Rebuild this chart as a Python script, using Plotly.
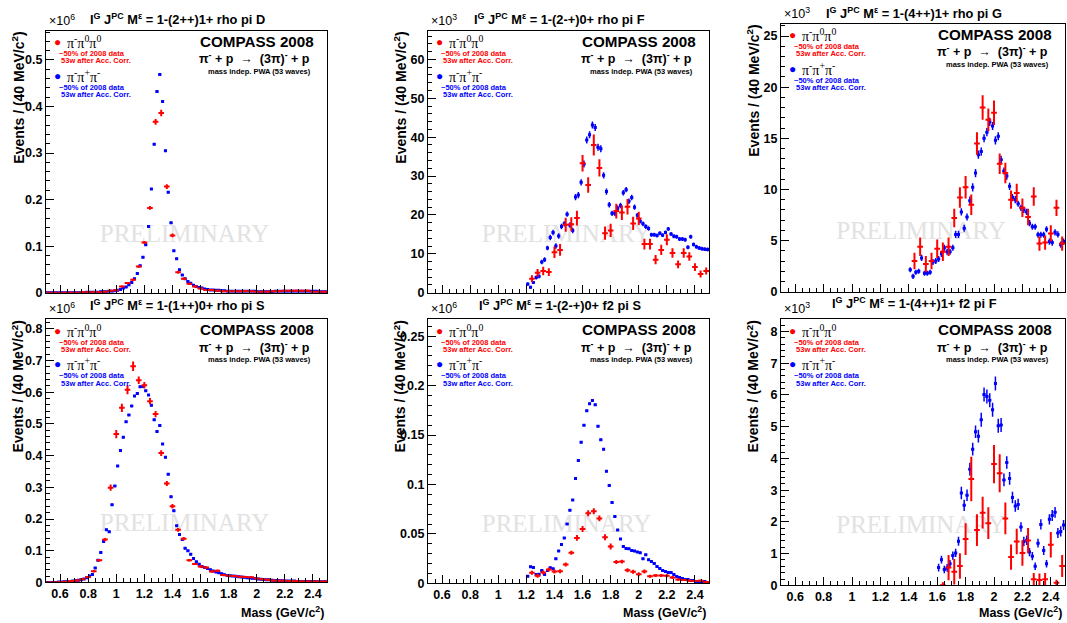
import plotly.graph_objects as go

W, H = 1067, 623
SANS = "Liberation Sans, Arial, Helvetica, sans-serif"
SERIF = "Liberation Serif, Times New Roman, serif"
RED = "#ff0000"
BLUE = "#0000ff"

# ---------------- wave names ----------------
wave_tl = "1-(2++)1+ rho pi D"
wave_tm = "1-(2-+)0+ rho pi F"
wave_tr = "1-(4++)1+ rho pi G"
wave_bl = "1-(1++)0+ rho pi S"
wave_bm = "1-(2-+)0+ f2 pi S"
wave_br = "1-(4++)1+ f2 pi F"

# x tick labels (mass, GeV/c^2)
mass_ticks = [0.6, 0.8, 1.0, 1.2, 1.4, 1.6, 1.8, 2.0, 2.2, 2.4]
mass_range = [0.5, 2.5]
red_bin = 0.04   # 40 MeV bins (pi- pi0 pi0)
blue_bin = 0.02  # 20 MeV bins (pi- pi+ pi-)

# ---------------- top-left: 1-(2++)1+ rho pi D  (x10^6) ----------------
tl_red_start = 0.52
tl_red = [0.000, 0.000, 0.000, 0.000, 0.000, 0.000, 0.001, 0.001, 0.001, 0.001,
          0.002, 0.004, 0.005, 0.013, 0.021, 0.028, 0.056, 0.108, 0.182, 0.367,
          0.386, 0.228, 0.123, 0.044, 0.030, 0.019, 0.013, 0.009, 0.006, 0.006,
          0.004, 0.003, 0.003, 0.003, 0.003, 0.003, 0.003, 0.002, 0.002, 0.002,
          0.003, 0.003, 0.004, 0.004, 0.004, 0.004, 0.004, 0.002, 0.002, 0.002]
tl_red_err = [0.0005, 0.0005, 0.0005, 0.0005, 0.0005, 0.0005, 0.0007, 0.0007, 0.0008, 0.0008,
              0.001, 0.001, 0.0012, 0.0015, 0.0018, 0.002, 0.0025, 0.003, 0.004, 0.006,
              0.007, 0.005, 0.004, 0.003, 0.002, 0.002, 0.0015, 0.0012, 0.001, 0.001,
              0.001, 0.001, 0.001, 0.001, 0.001, 0.001, 0.001, 0.001, 0.001, 0.001,
              0.001, 0.001, 0.001, 0.001, 0.001, 0.001, 0.001, 0.001, 0.001, 0.001]
tl_blue_start = 0.51
tl_blue = [0.000, 0.000, 0.000, 0.000, 0.000, 0.000, 0.000, 0.000, 0.000, 0.000,
           0.000, 0.000, 0.000, 0.000, 0.001, 0.001, 0.001, 0.001, 0.001, 0.002,
           0.002, 0.002, 0.003, 0.003, 0.004, 0.005, 0.007, 0.010, 0.012, 0.017,
           0.022, 0.030, 0.041, 0.058, 0.076, 0.103, 0.142, 0.223, 0.319, 0.432,
           0.469, 0.411, 0.305, 0.216, 0.150, 0.090, 0.073, 0.049, 0.038, 0.030,
           0.024, 0.020, 0.016, 0.013, 0.011, 0.010, 0.008, 0.007, 0.006, 0.006,
           0.005, 0.005, 0.004, 0.004, 0.003, 0.003, 0.003, 0.003, 0.003, 0.003,
           0.003, 0.003, 0.003, 0.003, 0.003, 0.002, 0.002, 0.002, 0.002, 0.002,
           0.002, 0.003, 0.003, 0.003, 0.003, 0.003, 0.003, 0.003, 0.003, 0.003,
           0.003, 0.003, 0.003, 0.003, 0.003, 0.003, 0.003, 0.002, 0.002, 0.002]

# ---------------- bottom-left: 1-(1++)0+ rho pi S  (x10^6) ----------------
bl_red_start = 0.52
bl_red = [0.000, 0.000, 0.001, 0.002, 0.004, 0.006, 0.010, 0.017, 0.035, 0.070,
          0.135, 0.299, 0.468, 0.551, 0.608, 0.682, 0.638, 0.622, 0.572, 0.531,
          0.408, 0.312, 0.240, 0.166, 0.138, 0.070, 0.058, 0.050, 0.047, 0.034,
          0.037, 0.023, 0.021, 0.020, 0.018, 0.017, 0.016, 0.012, 0.010, 0.008,
          0.006, 0.005, 0.005, 0.004, 0.004, 0.003, 0.003, 0.003, 0.003, 0.003]
bl_red_err = [0.001, 0.001, 0.001, 0.001, 0.001, 0.002, 0.002, 0.002, 0.003, 0.003,
              0.005, 0.010, 0.013, 0.013, 0.014, 0.015, 0.012, 0.010, 0.010, 0.010,
              0.009, 0.008, 0.007, 0.006, 0.005, 0.004, 0.003, 0.003, 0.003, 0.003,
              0.003, 0.002, 0.002, 0.002, 0.002, 0.002, 0.002, 0.002, 0.002, 0.002,
              0.001, 0.001, 0.001, 0.001, 0.001, 0.001, 0.001, 0.001, 0.001, 0.001]
bl_blue_start = 0.51
bl_blue = [0.000, 0.000, 0.000, 0.000, 0.001, 0.001, 0.002, 0.002, 0.003, 0.004,
           0.005, 0.007, 0.008, 0.011, 0.015, 0.020, 0.025, 0.045, 0.070, 0.094,
           0.129, 0.166, 0.160, 0.245, 0.304, 0.367, 0.416, 0.458, 0.507, 0.528,
           0.557, 0.588, 0.596, 0.617, 0.618, 0.605, 0.591, 0.559, 0.513, 0.476,
           0.495, 0.437, 0.395, 0.341, 0.270, 0.226, 0.179, 0.151, 0.135, 0.108,
           0.100, 0.089, 0.075, 0.065, 0.057, 0.050, 0.047, 0.044, 0.040, 0.036,
           0.033, 0.030, 0.027, 0.024, 0.022, 0.021, 0.020, 0.019, 0.018, 0.017,
           0.016, 0.015, 0.014, 0.013, 0.012, 0.011, 0.010, 0.009, 0.008, 0.008,
           0.007, 0.006, 0.006, 0.005, 0.005, 0.004, 0.004, 0.004, 0.004, 0.003,
           0.003, 0.003, 0.003, 0.003, 0.003, 0.003, 0.002, 0.002, 0.002, 0.002]

# ---------------- top-middle: 1-(2-+)0+ rho pi F  (x10^3) ----------------
tm_red_start = 1.24
tm_red = [3.6, 5.1, 5.6, 5.3, 10.4, 11.0, 17.5, 17.6, 19.2, 33.3,
          27.7, 38.0, 32.1, 15.3, 16.0, 21.0, 20.6, 22.1, 17.8, 19.1,
          12.5, 12.5, 8.5, 11.0, 13.6, 10.2, 7.3, 10.2, 9.3, 6.6,
          4.8, 5.6]
tm_red_err = [0.9, 1.0, 1.1, 1.0, 1.5, 1.5, 1.8, 1.8, 1.9, 2.1,
              2.0, 2.7, 2.2, 1.7, 1.7, 1.9, 1.9, 2.0, 1.7, 1.7,
              1.4, 1.4, 1.2, 1.3, 1.4, 1.2, 1.0, 1.2, 1.1, 1.0,
              0.9, 0.9]
tm_blue_start = 1.21
tm_blue = [2.2, 1.4, 2.6, 3.9, 4.2, 7.9, 8.5, 11.5, 14.2, 15.5,
           12.0, 14.6, 17.0, 17.7, 20.2, 17.4, 16.0, 24.6, 25.1, 28.4,
           33.1, 39.3, 40.6, 43.1, 42.5, 37.4, 37.0, 30.2, 26.0, 22.6,
           20.4, 20.4, 21.7, 22.4, 25.7, 26.5, 23.5, 24.5, 22.0, 19.9,
           18.4, 17.7, 17.0, 16.5, 14.9, 14.9, 14.7, 15.3, 14.8, 15.5,
           16.4, 15.1, 14.5, 14.4, 13.8, 13.8, 13.6, 11.7, 14.4, 12.4,
           11.8, 11.5, 11.3, 11.2, 11.1]
tm_blue_err = [0.4, 0.4, 0.4, 0.5, 0.5, 0.6, 0.6, 0.6, 0.7, 0.7,
               0.7, 0.7, 0.7, 0.7, 0.7, 0.7, 0.7, 0.8, 0.8, 0.8,
               0.9, 0.9, 0.9, 0.9, 0.9, 0.9, 0.9, 0.8, 0.8, 0.7,
               0.7, 0.7, 0.7, 0.7, 0.7, 0.7, 0.7, 0.7, 0.7, 0.6,
               0.6, 0.6, 0.6, 0.6, 0.5, 0.5, 0.5, 0.5, 0.5, 0.5,
               0.5, 0.5, 0.5, 0.5, 0.5, 0.5, 0.5, 0.5, 0.5, 0.5,
               0.5, 0.5, 0.5, 0.5, 0.5]

# ---------------- bottom-middle: 1-(2-+)0+ f2 pi S  (x10^6) ----------------
bm_red_start = 1.24
bm_red = [0.0107, 0.0077, 0.011, 0.014, 0.012, 0.0123, 0.019, 0.031, 0.046, 0.055,
          0.071, 0.073, 0.0657, 0.0467, 0.0373, 0.0217, 0.022, 0.0133, 0.0117, 0.0093,
          0.012, 0.0073, 0.008, 0.008, 0.0077, 0.006, 0.004, 0.0033, 0.0027, 0.0023,
          0.0027, 0.0013]
bm_red_err = [0.002, 0.002, 0.002, 0.002, 0.002, 0.002, 0.002, 0.002, 0.003, 0.003,
              0.003, 0.003, 0.003, 0.003, 0.003, 0.002, 0.002, 0.002, 0.002, 0.002,
              0.002, 0.0015, 0.0015, 0.0015, 0.0015, 0.0015, 0.001, 0.001, 0.001, 0.001,
              0.001, 0.001]
bm_blue_start = 1.21
bm_blue = [0.0073, 0.0167, 0.016, 0.009, 0.0093, 0.013, 0.009, 0.013, 0.0157, 0.0147,
           0.025, 0.0327, 0.0393, 0.046, 0.060, 0.074, 0.0843, 0.106, 0.1243, 0.1427,
           0.160, 0.1747, 0.1817, 0.185, 0.1807, 0.159, 0.1453, 0.1357, 0.1133, 0.099,
           0.0817, 0.0677, 0.054, 0.045, 0.0373, 0.0353, 0.035, 0.0333, 0.0327, 0.0317,
           0.031, 0.025, 0.029, 0.024, 0.022, 0.020, 0.017, 0.015, 0.013, 0.012,
           0.011, 0.011, 0.009, 0.007, 0.006, 0.005, 0.004, 0.004, 0.003, 0.003,
           0.002, 0.002, 0.002, 0.002, 0.001]

# ---------------- top-right: 1-(4++)1+ rho pi G  (x10^3) ----------------
tr_red_start = 1.44
tr_red = [3.0, 4.4, 2.7, 3.0, 4.2, 3.9, 4.4, 7.2, 9.2, 10.2,
          8.5, 14.5, 18.0, 16.8, 17.5, 12.5, 11.6, 9.0, 9.65, 8.2,
          7.3, 9.3, 4.7, 4.8, 5.7, 8.2, 4.7]
tr_red_err = [0.8, 0.9, 0.8, 0.8, 0.9, 0.9, 0.9, 0.9, 1.0, 1.1,
              1.0, 1.1, 1.2, 1.1, 1.2, 1.0, 1.0, 0.9, 0.9, 0.9,
              0.8, 0.9, 0.7, 0.7, 0.8, 0.8, 0.7]
tr_blue_start = 1.41
tr_blue = [2.15, 1.5, 1.9, 2.0, 3.3, 1.8, 1.8, 1.9, 2.9, 3.0,
           3.2, 3.7, 4.3, 3.9, 3.9, 4.3, 5.6, 5.6, 7.8, 6.2,
           7.3, 8.9, 10.2, 11.6, 13.4, 13.7, 15.0, 15.6, 16.6, 16.2,
           14.8, 15.2, 12.9, 11.8, 11.3, 10.3, 9.2, 9.0, 8.6, 8.2,
           8.0, 7.8, 6.7, 6.35, 6.35, 5.57, 5.57, 5.57, 6.1, 4.9,
           4.8, 5.8, 5.6, 4.6, 4.9]
tr_blue_err = [0.25, 0.25, 0.25, 0.25, 0.3, 0.25, 0.25, 0.25, 0.3, 0.3,
               0.3, 0.3, 0.3, 0.3, 0.3, 0.3, 0.35, 0.35, 0.35, 0.35,
               0.35, 0.4, 0.4, 0.4, 0.4, 0.4, 0.4, 0.4, 0.4, 0.4,
               0.4, 0.4, 0.4, 0.35, 0.35, 0.35, 0.35, 0.35, 0.3, 0.3,
               0.3, 0.3, 0.3, 0.3, 0.3, 0.3, 0.3, 0.3, 0.3, 0.3,
               0.3, 0.3, 0.3, 0.3, 0.3]

# ---------------- bottom-right: 1-(4++)1+ f2 pi F  (x10^3) ----------------
br_red_start = 1.64
br_red = [0.0, 0.56, 0.43, 0.61, 1.46, 3.35, 1.74, 2.29, 1.96, 3.82,
          3.53, 2.11, 0.89, 1.38, 1.02, 1.41, 0.19, 0.17, 0.19, 1.28,
          0.08, 0.61]
br_red_err = [0.1, 0.4, 0.4, 0.4, 0.5, 0.7, 0.5, 0.5, 0.5, 0.6,
              0.6, 0.5, 0.4, 0.4, 0.4, 0.4, 0.2, 0.2, 0.2, 0.4,
              0.1, 0.35]
br_blue_start = 1.61
br_blue = [0.56, 0.81, 0.5, 0.55, 0.68, 0.94, 1.02, 1.39, 2.91, 2.52,
           2.84, 3.66, 4.29, 4.84, 4.7, 5.22, 6.01, 5.95, 5.83, 5.53,
           6.36, 5.03, 5.05, 3.32, 3.87, 3.37, 2.77, 2.5, 2.55, 1.84,
           1.38, 1.42, 1.05, 0.92, 0.6, 1.33, 1.92, 1.1, 0.68, 2.08,
           2.2, 2.3, 1.65, 1.7, 1.9]
br_blue_err = [0.12, 0.12, 0.12, 0.12, 0.12, 0.13, 0.13, 0.14, 0.2, 0.18,
               0.18, 0.2, 0.2, 0.2, 0.2, 0.22, 0.22, 0.22, 0.22, 0.22,
               0.22, 0.22, 0.22, 0.2, 0.2, 0.2, 0.18, 0.18, 0.18, 0.15,
               0.15, 0.15, 0.13, 0.13, 0.12, 0.14, 0.16, 0.14, 0.12, 0.16,
               0.17, 0.17, 0.16, 0.16, 0.16]

# ---------------- panel layout (pixel frames: left, top, right, bottom) ----------------
panels = [
    dict(frame=(46, 31, 327, 296), ymax=0.563, dtick=0.1, minor=0.02, mult="6", wave=wave_tl, bottom=False,
         title_y=19, red=(tl_red_start, tl_red, tl_red_err), blue=(tl_blue_start, tl_blue, None)),
    dict(frame=(428, 31, 709, 296), ymax=67.4, dtick=10, minor=2, mult="3", wave=wave_tm, bottom=False,
         title_y=19, red=(tm_red_start, tm_red, tm_red_err), blue=(tm_blue_start, tm_blue, tm_blue_err)),
    dict(frame=(781, 24, 1065, 295), ymax=26.2, dtick=5, minor=1, mult="3", wave=wave_tr, bottom=False,
         title_y=13, red=(tr_red_start, tr_red, tr_red_err), blue=(tr_blue_start, tr_blue, tr_blue_err)),
    dict(frame=(46, 323, 327, 589), ymax=0.83, dtick=0.1, minor=0.02, mult="6", wave=wave_bl, bottom=True,
         title_y=308, red=(bl_red_start, bl_red, bl_red_err), blue=(bl_blue_start, bl_blue, None)),
    dict(frame=(428, 323, 709, 590), ymax=0.267, dtick=0.05, minor=0.01, mult="6", wave=wave_bm, bottom=True,
         title_y=308, red=(bm_red_start, bm_red, bm_red_err), blue=(bm_blue_start, bm_blue, None)),
    dict(frame=(781, 323, 1065, 592), ymax=8.38, dtick=1, minor=0.2, mult="3", wave=wave_br, bottom=True,
         title_y=306, red=(br_red_start, br_red, br_red_err), blue=(br_blue_start, br_blue, br_blue_err)),
]


def px(x):
    return x / W


def py(y):
    return 1 - y / H


def centers(start, n, width):
    return [round(start + width * i, 4) for i in range(n)]


fig = go.Figure()
annotations = []
layout = {}


def ann(text, x, y, size, color="black", family=SANS, bold=True, xanchor="left",
        yanchor="middle", angle=0):
    annotations.append(dict(
        text=text, x=px(x), y=py(y), xref="paper", yref="paper", showarrow=False,
        xanchor=xanchor, yanchor=yanchor, textangle=angle,
        font=dict(family=family, size=size, color=color, weight="bold" if bold else "normal")))


for i, p in enumerate(panels, start=1):
    L, T, R, B = p["frame"]
    xa, ya = f"x{i}", f"y{i}"
    xname = "xaxis" if i == 1 else f"xaxis{i}"
    yname = "yaxis" if i == 1 else f"yaxis{i}"

    # watermark (drawn first so data sit on top)
    fig.add_trace(go.Scatter(
        x=[mass_range[0] + 0.493 * (mass_range[1] - mass_range[0])], y=[0.219 * p["ymax"]],
        mode="text", text=["PRELIMINARY"],
        textfont=dict(family=SERIF, size=25, color="#e2e2e2"),
        xaxis=xa, yaxis=ya, showlegend=False, hoverinfo="skip", cliponaxis=False))

    # blue: pi- pi+ pi-
    bs, bv, be = p["blue"]
    fig.add_trace(go.Scatter(
        x=centers(bs, len(bv), blue_bin), y=bv, mode="markers",
        marker=dict(color=BLUE, size=3, symbol="square", line=dict(width=0)),
        error_x=dict(type="constant", value=blue_bin / 2, width=0, thickness=2, color=BLUE),
        error_y=(dict(type="data", array=be, width=0, thickness=1.5, color=BLUE)
                 if be is not None else dict(visible=False)),
        xaxis=xa, yaxis=ya, showlegend=False, cliponaxis=True))

    # red: pi- pi0 pi0
    rs, rv, re = p["red"]
    fig.add_trace(go.Scatter(
        x=centers(rs, len(rv), red_bin), y=rv, mode="markers",
        marker=dict(color=RED, size=2, symbol="square", line=dict(width=0)),
        error_x=dict(type="constant", value=red_bin / 2, width=0, thickness=2, color=RED),
        error_y=dict(type="data", array=re, width=0, thickness=2, color=RED),
        xaxis=xa, yaxis=ya, showlegend=False, cliponaxis=True))

    layout[xname] = dict(
        domain=[px(L), px(R)], range=mass_range, anchor=ya,
        tickmode="array", tickvals=mass_ticks,
        ticktext=[f"{v:g}" for v in mass_ticks],
        showticklabels=p["bottom"],
        ticks="inside", ticklen=8, tickwidth=1, tickcolor="black",
        minor=dict(ticks="inside", ticklen=4, dtick=0.05, tick0=0, tickwidth=1, tickcolor="black"),
        showline=True, linecolor="black", linewidth=1.2, mirror=True,
        showgrid=False, zeroline=False,
        tickfont=dict(family=SANS, size=12.5, color="black", weight="bold"))
    layout[yname] = dict(
        domain=[py(B), py(T)], range=[0, p["ymax"]], anchor=xa,
        dtick=p["dtick"], tick0=0,
        ticks="inside", ticklen=8, tickwidth=1, tickcolor="black",
        minor=dict(ticks="inside", ticklen=4, dtick=p["minor"], tick0=0, tickwidth=1, tickcolor="black"),
        showline=True, linecolor="black", linewidth=1.2, mirror=True,
        showgrid=False, zeroline=False,
        tickfont=dict(family=SANS, size=12.5, color="black", weight="bold"))

    # title
    ann(f"I<sup>G</sup> J<sup>PC</sup> M<sup>ε</sup> = {p['wave']}", (L + R) / 2 - 9,
        p["title_y"], 12.8, xanchor="center")
    # multiplier
    ann(f"×10<sup>{p['mult']}</sup>", L + 1, T - 1, 12.5, bold=False, yanchor="bottom")
    # y axis title
    ann("Events / (40 MeV/c<sup>2</sup>)", L - 28, T - 1, 14, xanchor="center", yanchor="top", angle=-90)
    # x axis title
    if p["bottom"]:
        ann("Mass (GeV/c<sup>2</sup>)", R - 1, 619, 12.5, xanchor="right", yanchor="middle")

    # legend
    ann("●", L + 11, T + 11.5, 12, color=RED, bold=False, xanchor="center")
    ann("π<sup>-</sup>π<sup>0</sup>π<sup>0</sup>", L + 19, T + 11.5, 14, family=SERIF, bold=False)
    ann("~50% of 2008 data", L + 10.5, T + 23, 7.5, color=RED)
    ann(" 53w after Acc. Corr.", L + 10.5, T + 30.5, 7.5, color=RED)
    ann("●", L + 11, T + 45.5, 12, color=BLUE, bold=False, xanchor="center")
    ann("π<sup>-</sup>π<sup>+</sup>π<sup>-</sup>", L + 19, T + 45.5, 14, family=SERIF, bold=False)
    ann("~50% of 2008 data", L + 10.5, T + 57, 7.5, color=BLUE)
    ann(" 53w after Acc. Corr.", L + 10.5, T + 64.5, 7.5, color=BLUE)

    # experiment block
    ann("COMPASS 2008", R - 11, T + 10.5, 15.2, xanchor="right")
    ann("π<sup>-</sup> + p  →  (3π)<sup>-</sup> + p", R - 15, T + 27.5, 12.5, xanchor="right")
    ann("mass indep. PWA (53 waves)", R - 14, T + 41, 7.5, xanchor="right")

fig.update_layout(
    width=W, height=H, margin=dict(l=0, r=0, t=0, b=0),
    paper_bgcolor="white", plot_bgcolor="white",
    showlegend=False, annotations=annotations, **layout)

fig.write_html("out.html")
